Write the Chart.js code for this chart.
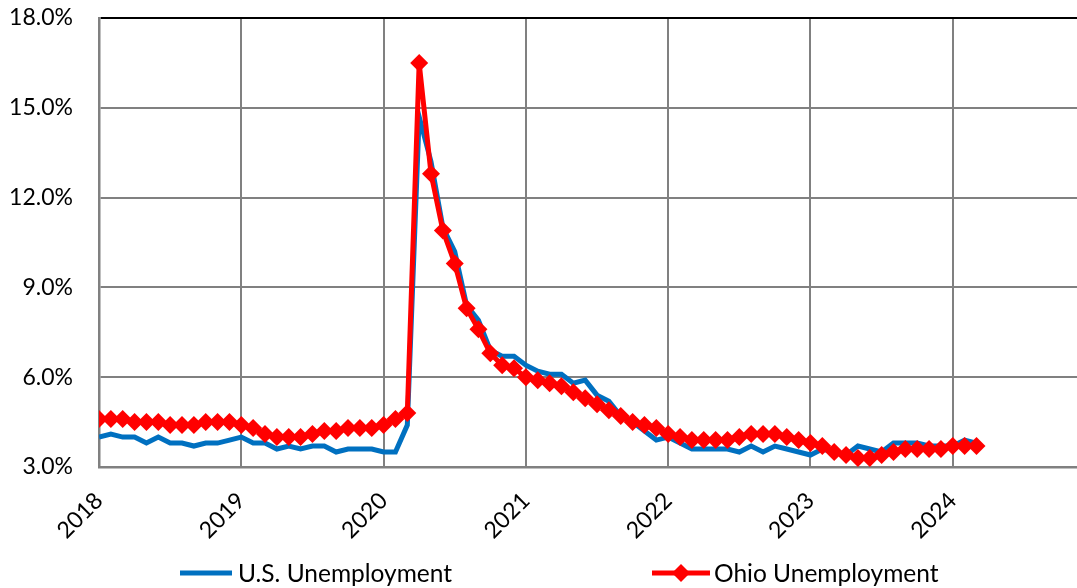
<!DOCTYPE html>
<html>
<head>
<meta charset="utf-8">
<script src="https://cdn.jsdelivr.net/npm/chart.js@4/dist/chart.umd.min.js"></script>
<style>
  html, body { margin: 0; padding: 0; background: #ffffff; overflow: hidden; }
  #wrap { width: 1077px; height: 588px; position: relative; }
</style>
</head>
<body>
<div id="wrap"><canvas id="chart"></canvas></div>
<script>
// Monthly unemployment rates (%), January 2018 through March 2024
const startYear = 2018;
const yearTicks = [2018, 2019, 2020, 2021, 2022, 2023, 2024];
const yTicks = [3, 6, 9, 12, 15, 18];
const seriesNames = ['U.S. Unemployment', 'Ohio Unemployment'];

const usRate = [
  4.0, 4.1, 4.0, 4.0, 3.8, 4.0, 3.8, 3.8, 3.7, 3.8, 3.8, 3.9,   // 2018
  4.0, 3.8, 3.8, 3.6, 3.7, 3.6, 3.7, 3.7, 3.5, 3.6, 3.6, 3.6,   // 2019
  3.5, 3.5, 4.4, 14.7, 13.2, 11.0, 10.2, 8.4, 7.9, 6.9, 6.7, 6.7, // 2020
  6.4, 6.2, 6.1, 6.1, 5.8, 5.9, 5.4, 5.2, 4.7, 4.5, 4.2, 3.9,   // 2021
  4.0, 3.8, 3.6, 3.6, 3.6, 3.6, 3.5, 3.7, 3.5, 3.7, 3.6, 3.5,   // 2022
  3.4, 3.6, 3.5, 3.4, 3.7, 3.6, 3.5, 3.8, 3.8, 3.8, 3.7, 3.7,   // 2023
  3.7, 3.9, 3.8                                                 // 2024
];

const ohioRate = [
  4.6, 4.6, 4.6, 4.5, 4.5, 4.5, 4.4, 4.4, 4.4, 4.5, 4.5, 4.5,   // 2018
  4.4, 4.3, 4.1, 4.0, 4.0, 4.0, 4.1, 4.2, 4.2, 4.3, 4.3, 4.3,   // 2019
  4.4, 4.6, 4.8, 16.5, 12.8, 10.9, 9.8, 8.3, 7.6, 6.8, 6.4, 6.3, // 2020
  6.0, 5.9, 5.8, 5.7, 5.5, 5.3, 5.1, 4.9, 4.7, 4.5, 4.4, 4.3,   // 2021
  4.1, 4.0, 3.9, 3.9, 3.9, 3.9, 4.0, 4.1, 4.1, 4.1, 4.0, 3.9,   // 2022
  3.8, 3.7, 3.5, 3.4, 3.3, 3.3, 3.4, 3.5, 3.6, 3.6, 3.6, 3.6,   // 2023
  3.7, 3.7, 3.7                                                 // 2024
];

const US_BLUE = '#0070C0';
const OHIO_RED = '#FF0000';
const GRID_GRAY = '#808080';
const FONT = 'Lato, "Open Sans", sans-serif';

// Place each monthly value at its fractional year on the time axis
const toPoints = arr => arr.map((v, i) => ({ x: startYear + i / 12, y: v }));

// Legend drawn beneath the axis labels: line sample (with marker for Ohio) + name
const bottomLegend = {
  id: 'bottomLegend',
  afterDraw(chart) {
    const ctx = chart.ctx;
    const cy = 573;
    const items = [
      { x0: 180, x1: 232, tx: 238, ds: 0 },
      { x0: 652, x1: 710, tx: 714, ds: 1 }
    ];
    ctx.save();
    items.forEach(it => {
      const ds = chart.data.datasets[it.ds];
      ctx.strokeStyle = ds.borderColor;
      ctx.lineWidth = ds.borderWidth;
      ctx.lineCap = 'butt';
      ctx.beginPath();
      ctx.moveTo(it.x0, cy);
      ctx.lineTo(it.x1, cy);
      ctx.stroke();
      if (ds.pointRadius > 0) {
        const r = ds.pointRadius;
        const cx = (it.x0 + it.x1) / 2;
        ctx.fillStyle = ds.pointBackgroundColor;
        ctx.beginPath();
        ctx.moveTo(cx - r, cy);
        ctx.lineTo(cx, cy - r);
        ctx.lineTo(cx + r, cy);
        ctx.lineTo(cx, cy + r);
        ctx.closePath();
        ctx.fill();
      }
      ctx.fillStyle = '#000000';
      ctx.font = '24.5px ' + FONT;
      ctx.textAlign = 'left';
      ctx.textBaseline = 'middle';
      ctx.fillText(ds.label, it.tx, cy + 1);
    });
    ctx.restore();
  }
};

Chart.defaults.color = '#000000';
Chart.defaults.font.family = FONT;

new Chart(document.getElementById('chart'), {
  type: 'line',
  data: {
    datasets: [
      {
        label: seriesNames[0],
        data: toPoints(usRate),
        borderColor: US_BLUE,
        backgroundColor: US_BLUE,
        borderWidth: 5,
        pointRadius: 0,
        pointHoverRadius: 0,
        tension: 0,
        order: 1
      },
      {
        label: seriesNames[1],
        data: toPoints(ohioRate),
        borderColor: OHIO_RED,
        backgroundColor: OHIO_RED,
        borderWidth: 5,
        pointStyle: 'rectRot',
        pointRadius: 9,
        pointBorderWidth: 0,
        pointBackgroundColor: OHIO_RED,
        pointBorderColor: OHIO_RED,
        tension: 0,
        order: 0
      }
    ]
  },
  options: {
    responsive: true,
    maintainAspectRatio: false,
    animation: false,
    devicePixelRatio: 1,
    layout: { autoPadding: false, padding: { top: 18, right: 0, bottom: 0, left: 0 } },
    plugins: {
      legend: { display: false },
      tooltip: { enabled: false }
    },
    scales: {
      x: {
        type: 'linear',
        min: yearTicks[0],
        max: 2024.873,
        afterBuildTicks(scale) {
          scale.ticks = yearTicks.map(v => ({ value: v }));
        },
        afterFit(scale) {
          scale.height = 121;
          scale.paddingLeft = 0;
          scale.paddingRight = 0;
        },
        ticks: {
          autoSkip: false,
          includeBounds: false,
          minRotation: 45,
          maxRotation: 45,
          padding: 20,
          font: { size: 23, family: FONT },
          callback: v => String(v)
        },
        grid: {
          color: GRID_GRAY,
          lineWidth: 2,
          drawTicks: false
        },
        border: { display: true, color: GRID_GRAY, width: 2.5 }
      },
      y: {
        min: yTicks[0],
        max: yTicks[yTicks.length - 1],
        afterBuildTicks(scale) {
          scale.ticks = yTicks.map(v => ({ value: v }));
        },
        afterFit(scale) {
          scale.width = 99;
          scale.paddingTop = 0;
          scale.paddingBottom = 0;
        },
        ticks: {
          padding: 26,
          font: { size: 23, family: FONT },
          callback: v => v.toFixed(1) + '%'
        },
        grid: {
          color: ctx => (ctx.tick && ctx.tick.value === 18 ? '#000000' : GRID_GRAY),
          lineWidth: 2,
          drawTicks: false
        },
        border: { display: true, color: GRID_GRAY, width: 2.5 }
      }
    }
  },
  plugins: [bottomLegend]
});
</script>
</body>
</html>
